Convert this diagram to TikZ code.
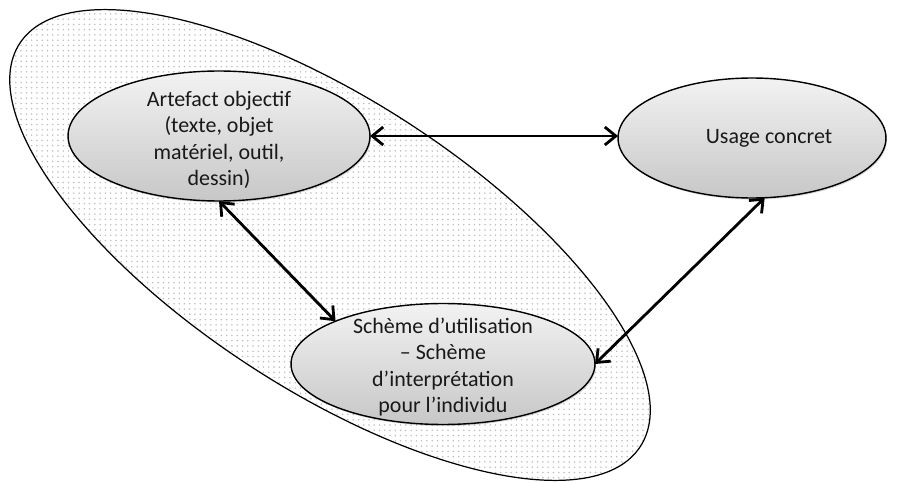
\documentclass[tikz,border=0pt]{standalone}
\usepackage{fontspec}
\setmainfont{Carlito}
\usetikzlibrary{arrows.meta,shapes.geometric,patterns,shadows}

\begin{document}
\begin{tikzpicture}[x=0.02cm,y=-0.02cm,
  bubble/.style={ellipse,draw=black,line width=0.8pt,inner sep=0pt,outer sep=0pt,top color=black!5,bottom color=black!22,
    drop shadow={opacity=.3,shadow xshift=.6pt,shadow yshift=-.9pt}},
  lbl/.style={align=center,inner sep=0pt,text=black!90,font=\fontsize{12.5}{15.1}\selectfont},
  link/.style={{Straight Barb[length=2.2mm,width=3.6mm]}-{Straight Barb[length=2.2mm,width=3.6mm]},line width=1.6pt}]
  \useasboundingbox (0,0) rectangle (910,483);
  % zone de l'individu
  \draw[line width=0.7pt,pattern=dots,pattern color=black!25,rotate around={-33:(330,245)}]
    (330,245) ellipse [x radius=370,y radius=145];
  \node[bubble,minimum width=6.04cm,minimum height=2.6cm] (art) at (219,136) {};
  \node[bubble,minimum width=5.36cm,minimum height=2.4cm] (usage) at (752,138) {};
  \node[bubble,minimum width=6.08cm,minimum height=2.42cm] (schema) at (443,364) {};
  \node[lbl] (artlbl) at (219,140) {Artefact objectif\\(texte, objet\\matériel, outil,\\dessin)};
  \node[lbl] (usagelbl) at (769,138) {Usage concret};
  \node[lbl] (schemalbl) at (443,367) {Schème d’utilisation\\– Schème\\d’interprétation\\pour l’individu};
  \draw[link] (art.east) -- (usage.west |- art.east);
  \draw[link] (art.south) -- (schema.north west);
  \draw[link] (usage.-78) -- (schema.east);
\end{tikzpicture}
\end{document}
